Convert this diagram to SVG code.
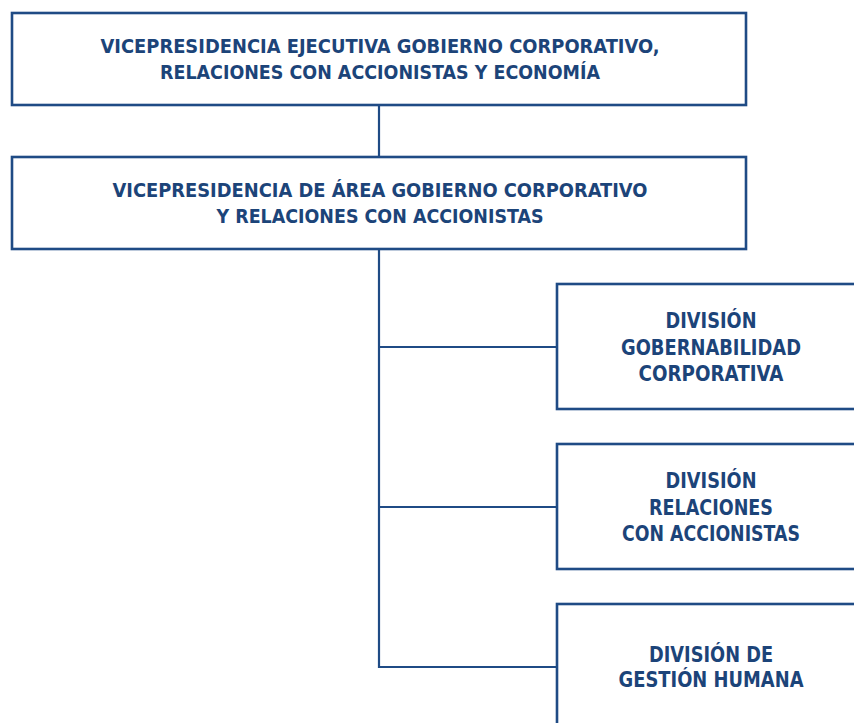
<svg xmlns="http://www.w3.org/2000/svg" width="854" height="723" viewBox="0 0 854 723">
<style>
.box{fill:#fff;stroke:#1f4b85;stroke-width:2.6}
.ln{fill:none;stroke:#1f4b85;stroke-width:2.2}
.t{font-family:"DejaVu Sans Condensed","DejaVu Sans",sans-serif;font-weight:bold;font-size:19.5px;fill:#1c4479;text-anchor:middle}
.c{font-family:"DejaVu Sans","Open Sans",sans-serif;font-weight:bold;font-size:21px;fill:#1c4479;text-anchor:middle}
</style>
<rect width="854" height="723" fill="#fff"/>
<g id="connectors">
<line class="ln" x1="379" y1="105" x2="379" y2="157"/>
<polyline class="ln" points="379,249 379,667 557,667"/>
<line class="ln" x1="379" y1="347" x2="557" y2="347"/>
<line class="ln" x1="379" y1="507" x2="557" y2="507"/>
</g>
<g id="n1">
<rect class="box" x="12" y="13" width="734" height="92"/>
<text class="t" x="380" y="53" textLength="559" lengthAdjust="spacingAndGlyphs">VICEPRESIDENCIA EJECUTIVA GOBIERNO CORPORATIVO,</text>
<text class="t" x="380" y="78.5" textLength="440" lengthAdjust="spacingAndGlyphs">RELACIONES CON ACCIONISTAS Y ECONOMÍA</text>
</g>
<g id="n2">
<rect class="box" x="12" y="157" width="734" height="92"/>
<text class="t" x="380" y="197" textLength="535" lengthAdjust="spacingAndGlyphs">VICEPRESIDENCIA DE ÁREA GOBIERNO CORPORATIVO</text>
<text class="t" x="380" y="222.5" textLength="327" lengthAdjust="spacingAndGlyphs">Y RELACIONES CON ACCIONISTAS</text>
</g>
<g id="n3">
<rect class="box" x="557" y="284" width="320" height="125"/>
<text class="c" x="711" y="328" textLength="91" lengthAdjust="spacingAndGlyphs">DIVISIÓN</text>
<text class="c" x="711" y="355" textLength="180" lengthAdjust="spacingAndGlyphs">GOBERNABILIDAD</text>
<text class="c" x="711" y="381" textLength="145" lengthAdjust="spacingAndGlyphs">CORPORATIVA</text>
</g>
<g id="n4">
<rect class="box" x="557" y="444" width="320" height="125"/>
<text class="c" x="711" y="488" textLength="91" lengthAdjust="spacingAndGlyphs">DIVISIÓN</text>
<text class="c" x="711" y="515" textLength="124" lengthAdjust="spacingAndGlyphs">RELACIONES</text>
<text class="c" x="711" y="541" textLength="178" lengthAdjust="spacingAndGlyphs">CON ACCIONISTAS</text>
</g>
<g id="n5">
<rect class="box" x="557" y="604" width="320" height="140"/>
<text class="c" x="711" y="662" textLength="124" lengthAdjust="spacingAndGlyphs">DIVISIÓN DE</text>
<text class="c" x="711" y="687" textLength="185" lengthAdjust="spacingAndGlyphs">GESTIÓN HUMANA</text>
</g>
</svg>
